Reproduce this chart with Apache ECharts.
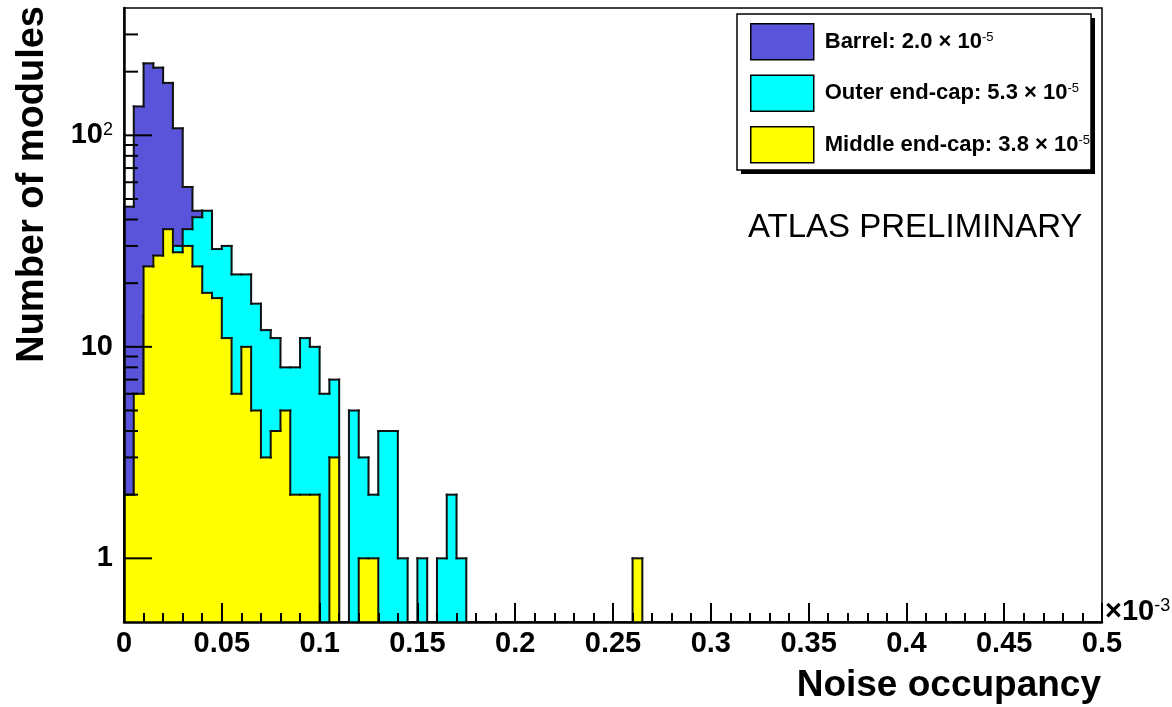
<!DOCTYPE html>
<html>
<head>
<meta charset="utf-8">
<script src="https://cdn.jsdelivr.net/npm/echarts@6/dist/echarts.min.js"></script>
<style>
html, body { margin: 0; padding: 0; background: #fff; }
#chart { width: 1172px; height: 707px; }
</style>
</head>
<body>
<div id="chart"></div>
<script>
// ---------------- data ----------------
const binWidth = 0.005;               // bin width in units of 10^-3
const seriesNames = ['Barrel', 'Outer end-cap', 'Middle end-cap'];
const seriesColors = ['#5954d9', '#00ffff', '#ffff00'];
const legendMeans = ['2.0', '5.3', '3.8'];
const legendExponent = '-5';

// counts per bin, starting at noise occupancy 0
const barrel = [46, 137, 219, 209, 177, 108, 57, 44, 25, 12, 6, 3, 2, 1];
const outerEndcap = [1, 4, 14, 20, 27, 30, 36, 41, 44, 29, 30, 22, 22, 16, 12, 11, 8, 8, 11, 10,
                     6, 7, 0, 5, 3, 2, 4, 4, 1, 0, 1, 0, 1, 2, 1];
const middleEndcap = [2, 6, 24, 27, 36, 28, 30, 24, 18, 17, 11, 6, 10, 5, 3, 4, 5, 2, 2, 2,
                      0, 3, 0, 0, 1, 1,
                      0, 0, 0, 0, 0, 0, 0, 0, 0, 0, 0, 0, 0, 0, 0, 0, 0, 0, 0, 0, 0, 0, 0, 0, 0, 0,
                      1];

const xTickLabels = ['0', '0.05', '0.1', '0.15', '0.2', '0.25', '0.3', '0.35', '0.4', '0.45', '0.5'];
const yMajorTicks = [1, 10, 100];
const yTickLabelBase = ['1', '10', '10'];
const yTickLabelExp = ['', '', '2'];
const yMinorTicks = [2, 3, 4, 5, 6, 7, 8, 9, 20, 30, 40, 50, 60, 70, 80, 90, 200, 300];

const xMin = 0, xMax = 0.5;
const yMin = 0.5, yMax = 400;

// ---------------- chart ----------------
const FONT = '"Liberation Sans", Arial, Helvetica, sans-serif';
const histograms = [barrel, outerEndcap, middleEndcap];

function histRender(vals, color) {
  return function (params, api) {
    const k = params.dataIndex;
    const v = vals[k] || 0;
    const vPrev = k > 0 ? (vals[k - 1] || 0) : 0;
    const cs = params.coordSys;
    const bottom = cs.y + cs.height;
    const xL = api.coord([k * binWidth, yMin])[0];
    const xR = api.coord([(k + 1) * binWidth, yMin])[0];
    const yOf = val => (val > 0 ? api.coord([k * binWidth, val])[1] : bottom);
    const yv = yOf(v), yp = yOf(vPrev);
    const stroke = { stroke: '#111', lineWidth: 2, lineCap: 'square' };
    const children = [];
    if (v > 0) {
      children.push({ type: 'rect', z2: 0,
        shape: { x: xL - 0.6, y: yv, width: xR - xL + 1.2, height: bottom - yv },
        style: { fill: color } });
      children.push({ type: 'line', z2: 10,
        shape: { x1: xL, y1: yv, x2: xR, y2: yv }, style: stroke });
    }
    if (Math.abs(yv - yp) > 0.01) {
      children.push({ type: 'line', z2: 10,
        shape: { x1: xL, y1: yp, x2: xL, y2: yv }, style: stroke });
    }
    return { type: 'group', children: children };
  };
}

const histSeries = histograms.map((vals, i) => {
  const data = [];
  for (let k = 0; k <= vals.length; k++) data.push([(k + 0.5) * binWidth, vals[k] || 0]);
  return {
    type: 'custom', name: seriesNames[i], z: 2 + i, silent: true,
    itemStyle: { color: seriesColors[i] },
    renderItem: histRender(vals, seriesColors[i]),
    data: data
  };
});

const tickSeries = {
  type: 'custom', z: 8, silent: true,
  data: yMajorTicks.map(v => [xMin, v, 1]).concat(yMinorTicks.map(v => [xMin, v, 0])),
  renderItem(params, api) {
    const p = api.coord([api.value(0), api.value(1)]);
    const len = api.value(2) ? 28 : 14;
    return { type: 'line', shape: { x1: p[0], y1: p[1], x2: p[0] + len, y2: p[1] },
      style: { stroke: '#000', lineWidth: 2 } };
  }
};

const option = {
  animation: false,
  backgroundColor: '#fff',
  grid: { left: 124, right: 70, top: 8, bottom: 85, show: true, borderColor: '#000',
          borderWidth: 1.5, containLabel: false, outerBoundsMode: 'none' },
  xAxis: {
    type: 'value', min: xMin, max: xMax, interval: 0.05, z: 6,
    axisLine: { show: true, onZero: false, lineStyle: { color: '#000', width: 2.5 } },
    axisTick: { show: true, inside: true, length: 19, lineStyle: { color: '#000', width: 2 } },
    minorTick: { show: true, splitNumber: 5, length: 9, lineStyle: { color: '#000', width: 2 } },
    splitLine: { show: false }, minorSplitLine: { show: false },
    axisLabel: {
      margin: 7, color: '#000', fontSize: 29, fontWeight: 'bold', fontFamily: FONT,
      formatter: v => {
        const i = Math.round(v / 0.05);
        return xTickLabels[i] !== undefined ? xTickLabels[i] : '';
      }
    }
  },
  yAxis: {
    type: 'log', logBase: 10, min: yMin, max: yMax, z: 6,
    axisLine: { show: true, lineStyle: { color: '#000', width: 2.5 } },
    axisTick: { show: false }, splitLine: { show: false },
    axisLabel: {
      margin: 11, showMinLabel: false, showMaxLabel: false,
      formatter: v => {
        const i = yMajorTicks.indexOf(Math.round(v));
        if (i < 0) return '';
        return '{b|' + yTickLabelBase[i] + '}' + (yTickLabelExp[i] ? '{s|' + yTickLabelExp[i] + '}' : '');
      },
      rich: {
        b: { fontSize: 29, fontWeight: 'bold', fontFamily: FONT, color: '#000' },
        s: { fontSize: 18, fontFamily: FONT, color: '#000', verticalAlign: 'top' }
      }
    }
  },
  legend: {
    orient: 'vertical', left: 750, top: 23, itemWidth: 63, itemHeight: 36, itemGap: 14,
    icon: 'rect', padding: 0, z: 10, selectedMode: false,
    itemStyle: { borderColor: '#000', borderWidth: 1.5 },
    data: seriesNames.map((n, i) => ({ name: n, itemStyle: { color: seriesColors[i], borderColor: '#000', borderWidth: 1.5 } })),
    formatter: name => {
      const i = seriesNames.indexOf(name);
      return '{t|' + name + ': ' + legendMeans[i] + ' × 10}{s|' + legendExponent + '}';
    },
    textStyle: {
      padding: [0, 0, 0, 6],
      rich: {
        t: { fontSize: 22, fontWeight: 'bold', fontFamily: FONT, color: '#000' },
        s: { fontSize: 13, fontFamily: FONT, color: '#000', verticalAlign: 'top' }
      }
    }
  },
  graphic: [
    { type: 'rect', z: 1, shape: { x: 741, y: 18, width: 354, height: 156 },
      style: { fill: '#000' } },
    { type: 'rect', z: 1, shape: { x: 737, y: 14, width: 354, height: 156 },
      style: { fill: '#fff', stroke: '#000', lineWidth: 1.5 } },
    { type: 'text', z: 10, x: 748, y: 228,
      style: { text: 'ATLAS PRELIMINARY', fontSize: 33, fontFamily: FONT, fill: '#000',
               align: 'left', verticalAlign: 'middle', textAlign: 'left', textVerticalAlign: 'middle' } },
    { type: 'text', z: 10, x: 1101, y: 686,
      style: { text: 'Noise occupancy', fontSize: 37, fontWeight: 'bold', fontFamily: FONT, fill: '#000',
               align: 'right', verticalAlign: 'middle', textAlign: 'right', textVerticalAlign: 'middle' } },
    { type: 'text', z: 10, x: 33, y: 6, rotation: Math.PI / 2,
      style: { text: 'Number of modules', fontSize: 38, fontWeight: 'bold', fontFamily: FONT, fill: '#000',
               align: 'right', verticalAlign: 'middle', textAlign: 'right', textVerticalAlign: 'middle' } },
    { type: 'text', z: 10, x: 1105, y: 612,
      style: { text: '{b|×10}{s|-3}', fill: '#000',
               align: 'left', verticalAlign: 'middle', textAlign: 'left', textVerticalAlign: 'middle',
               rich: { b: { fontSize: 29, fontWeight: 'bold', fontFamily: FONT, fill: '#000', color: '#000' },
                       s: { fontSize: 18, fontFamily: FONT, fill: '#000', color: '#000', verticalAlign: 'top' } } } }
  ],
  series: histSeries.concat([tickSeries])
};

const chart = echarts.init(document.getElementById('chart'), null, { renderer: 'canvas' });
chart.setOption(option);
</script>
</body>
</html>
